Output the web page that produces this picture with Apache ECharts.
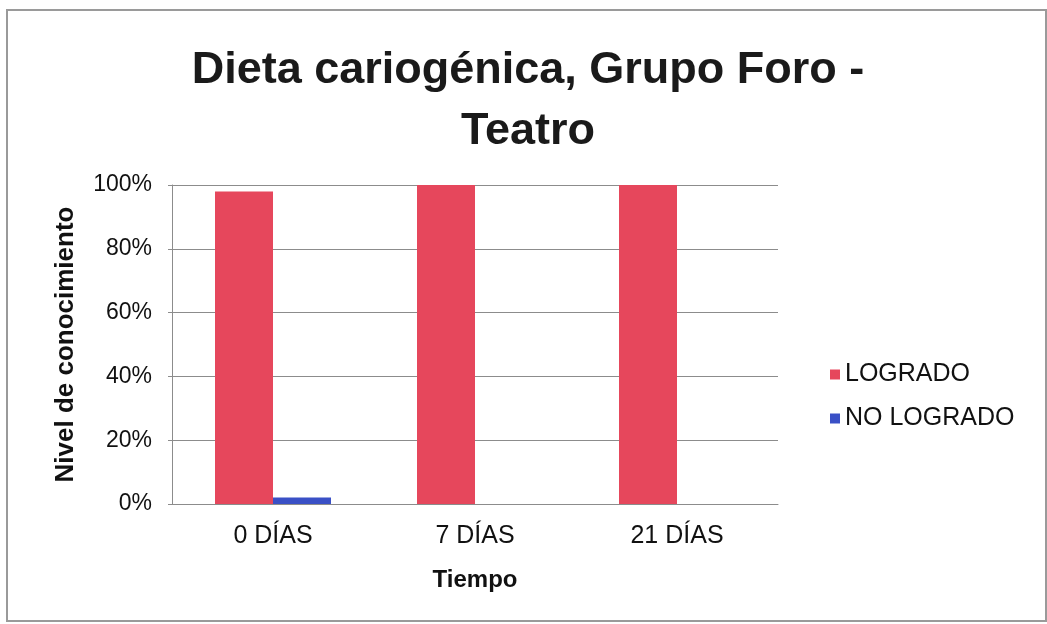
<!DOCTYPE html>
<html>
<head>
<meta charset="utf-8">
<script src="https://cdn.jsdelivr.net/npm/echarts@6/dist/echarts.min.js"></script>
<style>
  html, body { margin: 0; padding: 0; background: #fff; }
  #chart { width: 1047px; height: 624px; }
</style>
</head>
<body>
<div id="chart"></div>
<script>
// categorias y series
var categorias = ['0 DÍAS', '7 DÍAS', '21 DÍAS'];
var logrado = [0.98, 1, 1];
var noLogrado = [0.02, 0, 0];

var fuente = '"Liberation Sans", Arial, sans-serif';

var chart = echarts.init(document.getElementById('chart'));
var option = {
  backgroundColor: '#fff',
  animation: false,
  title: {
    text: 'Dieta cariogénica, Grupo Foro -\nTeatro',
    left: 523,
    textAlign: 'center',
    top: 35,
    textStyle: {
      fontFamily: fuente,
      fontSize: 45,
      fontWeight: 'bold',
      lineHeight: 61,
      color: '#1a1a1a'
    }
  },
  legend: {
    orient: 'vertical',
    left: 825,
    top: 357,
    itemWidth: 10,
    itemHeight: 10,
    itemGap: 19,
    icon: 'rect',
    textStyle: { fontFamily: fuente, fontSize: 25, color: '#111' },
    data: ['LOGRADO', 'NO LOGRADO']
  },
  grid: { left: 172, right: 269, top: 185, bottom: 120 },
  xAxis: {
    type: 'category',
    data: categorias,
    name: 'Tiempo',
    nameLocation: 'middle',
    nameGap: 64,
    nameTextStyle: { fontFamily: fuente, fontSize: 24, fontWeight: 'bold', color: '#111' },
    axisLine: { lineStyle: { color: '#8c8c8c', width: 1 } },
    axisTick: { show: false },
    axisLabel: { fontFamily: fuente, fontSize: 25, color: '#111', margin: 20 }
  },
  yAxis: {
    type: 'value',
    min: 0,
    max: 1,
    interval: 0.2,
    name: 'Nivel de conocimiento',
    nameLocation: 'middle',
    nameGap: 93,
    nameTextStyle: { fontFamily: fuente, fontSize: 26, fontWeight: 'bold', color: '#111' },
    axisLine: { show: true, lineStyle: { color: '#8c8c8c', width: 1 } },
    axisTick: { show: true, length: 4, lineStyle: { color: '#8c8c8c' } },
    axisLabel: {
      fontFamily: fuente, fontSize: 23, color: '#111', margin: 20,
      padding: [6, 0, 0, 0],
      formatter: function (v) { return Math.round(v * 100) + '%'; }
    },
    splitLine: { lineStyle: { color: '#8c8c8c', width: 1 } }
  },
  series: [
    {
      name: 'LOGRADO',
      type: 'bar',
      data: logrado,
      barWidth: 58,
      barGap: '0%',
      itemStyle: { color: '#e6475c' }
    },
    {
      name: 'NO LOGRADO',
      type: 'bar',
      data: noLogrado,
      barWidth: 58,
      barGap: '0%',
      itemStyle: { color: '#3a50c6' }
    }
  ],
  graphic: [
    {
      type: 'rect',
      silent: true,
      shape: { x: 7, y: 10, width: 1039, height: 611 },
      style: { fill: 'none', stroke: '#9a9a9a', lineWidth: 2 }
    }
  ]
};
chart.setOption(option);
</script>
</body>
</html>
